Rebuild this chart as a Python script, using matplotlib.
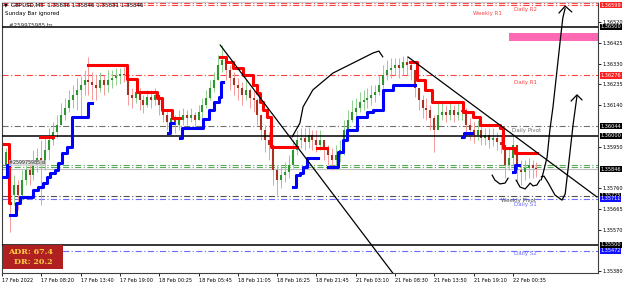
import numpy as np
import matplotlib
matplotlib.use('Agg')
import matplotlib.pyplot as plt
from matplotlib.patches import Rectangle
from matplotlib.transforms import blended_transform_factory

# GBPUSD M5, prices in points (1e-5), one candle per ~30 min of chart
first_open = 135866
close_pts = [135925, 135728, 135774, 135728, 135797, 135843, 135820, 135866, 135898, 135866,
             135935, 135980, 136017, 136049, 136095, 136127, 136164, 136187, 136210, 136232,
             136255, 136246, 136232, 136219, 136255, 136232, 136255, 136265, 136274, 136283,
             136278, 136187, 136173, 136200, 136164, 136141, 136177, 136164, 136187, 136141,
             136095, 136063, 136081, 136049, 136072, 136095, 136081, 136095, 136072, 136109,
             136141, 136173, 136219, 136255, 136324, 136347, 136301, 136265, 136232, 136219,
             136187, 136210, 136173, 136164, 136095, 136026, 135980, 135957, 135843, 135797,
             135820, 135834, 135866, 135935, 135980, 135990, 135971, 136003, 135980, 135957,
             135980, 135935, 135912, 135889, 135912, 135935, 136026, 136072, 136109, 136127,
             136155, 136164, 136173, 136187, 136200, 136232, 136278, 136301, 136310, 136324,
             136310, 136338, 136324, 136301, 136219, 136164, 136127, 136118, 136081, 136026,
             136095, 136109, 136095, 136118, 136095, 136109, 136118, 136049, 136026, 136003,
             136026, 135990, 136003, 135980, 135990, 135971, 135957, 135866, 135898, 135957,
             135843, 135834, 135852, 135866, 135852, 135846]
high_pts = [135944, 135935, 135820, 135797, 135843, 135889, 135889, 135935, 135944, 135980,
            135990, 136035, 136063, 136095, 136150, 136173, 136210, 136232, 136265, 136274,
            136301, 136361, 136292, 136278, 136292, 136278, 136301, 136301, 136310, 136310,
            136315, 136292, 136219, 136232, 136219, 136187, 136210, 136210, 136219, 136187,
            136164, 136118, 136118, 136095, 136118, 136127, 136118, 136127, 136109, 136141,
            136173, 136210, 136255, 136292, 136370, 136416, 136370, 136324, 136292, 136265,
            136246, 136255, 136219, 136210, 136173, 136095, 136049, 136017, 135957, 135866,
            135866, 135880, 135912, 135980, 136026, 136035, 136035, 136040, 136026, 136026,
            136026, 135980, 135957, 135944, 135957, 135980, 136072, 136118, 136164, 136173,
            136200, 136210, 136219, 136232, 136232, 136278, 136324, 136347, 136356, 136356,
            136356, 136365, 136365, 136347, 136301, 136219, 136187, 136173, 136141, 136095,
            136150, 136150, 136141, 136150, 136141, 136150, 136150, 136127, 136081, 136063,
            136072, 136049, 136035, 136035, 136035, 136017, 136003, 135957, 135944, 136003,
            135957, 135889, 135889, 135898, 135889, 135880]
low_pts = [135852, 135559, 135683, 135660, 135705, 135774, 135774, 135797, 135834, 135683,
           135843, 135889, 135957, 135990, 136049, 136072, 136109, 136127, 136118, 136081,
           136187, 136187, 136164, 136164, 136200, 136187, 136200, 136219, 136232, 136237,
           136246, 136141, 136127, 136150, 136118, 136104, 136132, 136127, 136141, 136095,
           136063, 136026, 136035, 136012, 136026, 136049, 136049, 136063, 136035, 136072,
           136081, 136127, 136164, 136200, 136255, 136292, 136255, 136210, 136187, 136164,
           136141, 136164, 136127, 136109, 136049, 135980, 135925, 135889, 135774, 135728,
           135760, 135788, 135806, 135852, 135912, 135944, 135935, 135944, 135935, 135925,
           135935, 135889, 135866, 135843, 135852, 135880, 135912, 136026, 136063, 136081,
           136109, 136118, 136127, 136141, 136155, 136187, 136219, 136255, 136265, 136278,
           136265, 136278, 136278, 136255, 136177, 136118, 136081, 136072, 136026, 135925,
           136049, 136072, 136063, 136072, 136063, 136072, 136072, 136003, 135980, 135967,
           135980, 135957, 135957, 135944, 135953, 135935, 135921, 135806, 135843, 135866,
           135788, 135774, 135797, 135806, 135806, 135811]

# resistance / support step lines (bar position, level), nan = gap
res_x = [0.5, 1.8, 2.0, np.nan, 9.7, 13.0, np.nan,
         21.9, 31.8, 34.4, 39.4, 40.7, 43.3, 45.3, np.nan,
         55.5, 57.0, 58.8, 61.3, 63.9, 64.9, 65.7, 66.4, 67.4, 68.5, 75.1, np.nan,
         80.2, 82.7, np.nan,
         103.8, 105.6, 107.6, 109.4, 117.3, 119.9, 121.6, 126.7, 127.5, 130.5, 136.1]
res_y = [135962, 135692, 135692, np.nan, 135994, 135994, np.nan,
         136324, 136260, 136200, 136173, 136118, 136081, 136081, np.nan,
         136361, 136338, 136310, 136278, 136232, 136196, 136155, 136118, 136086, 135948, 135948, np.nan,
         135944, 135944, np.nan,
         136338, 136255, 136210, 136155, 136109, 136086, 136049, 136035, 135944, 135921, 135921]
sup_x = [0.25, 1.3, 1.8, np.nan,
         2.0, 3.6, 4.6, 7.9, 9.2, 10.4, 11.5, 12.2, 13.5, 14.3, 15.3, 16.5, 17.8, 21.9, 22.9, np.nan,
         42.2, 42.8, 43.5, np.nan,
         45.3, 45.8, 51.2, 52.7, 53.9, 55.2, 55.7, 56.2, np.nan,
         74.0, 74.8, 75.8, 76.6, 77.6, 80.4, np.nan,
         83.0, 85.5, 86.8, 87.8, 90.3, 92.9, 94.4, 96.9, 99.5, 105.1, np.nan,
         117.0, 117.6, 119.6, np.nan,
         130.0, 130.5, 131.6]
sup_y = [135811, 135866, 135866, np.nan,
         135637, 135692, 135719, 135751, 135765, 135783, 135811, 135829, 135843, 135875, 135921, 135948,
         136086, 136150, 136150, np.nan,
         136012, 136058, 136058, np.nan,
         135990, 136035, 136077, 136118, 136155, 136177, 136246, 136246, np.nan,
         135765, 135820, 135829, 135857, 135898, 135898, np.nan,
         135857, 135925, 135980, 136026, 136086, 136109, 136118, 136210, 136232, 136232, np.nan,
         135994, 136012, 136012, np.nan,
         135834, 135866, 135866]

# pivot levels: name, price, colour, label x (bar), label y
levels = [
    ('Weekly R1', 1.36606, '#ff4040', 123.4, 1.36558),
    ('Daily R2', 1.36599, '#ff4040', 133.1, 1.36578),
    ('Daily R1', 1.36276, '#ff4040', 133.1, 1.36246),
    ('Daily Pivot', 1.36044, '#707070', 133.6, 1.36022),
    ('Weekly Pivot', 1.35725, '#505050', 131.3, 1.35705),
    ('Daily S1', 1.35711, '#6a6aff', 133.1, 1.35683),
    ('Daily S2', 1.35472, '#6a6aff', 133.1, 1.35462),
]
round_levels = [1.36500, 1.36000, 1.35500]
sl_levels = [1.35866, 1.35857]
bid = 1.35846

# hand drawn lines (bar position, points)
trend1_x, trend1_y = [55.5, 100.0], [136416, 135357]
trend2_x, trend2_y = [103.3, 151.4], [136361, 135719]
arc_x = [73.8, 75.8, 76.6, 79.1, 84.2, 89.3, 94.4, 95.9, 96.9]
arc_y = [135994, 136058, 136132, 136210, 136287, 136333, 136379, 136388, 136361]
up1_x = [137.2, 137.7, 138.7, 139.4, 140.2, 141.5, 142.2, 142.7, 143.3]
up1_y = [135797, 135829, 135902, 136026, 136132, 136347, 136462, 136540, 136585]
cap1_x, cap1_y = [141.7, 143.3, 145.0], [136562, 136594, 136567]
up2_x = [137.2, 137.9, 139.0, 140.7, 142.5, 143.3, 144.3, 145.3, 146.3]
up2_y = [135811, 135815, 135783, 135728, 135705, 135733, 135889, 136049, 136182]
cap2_x, cap2_y = [144.8, 146.3, 147.6], [136159, 136187, 136164]
sq1_x = [124.7, 125.4, 126.7, 128.0, 128.8]
sq1_y = [135820, 135797, 135779, 135783, 135806]
sq2_x = [130.8, 131.8, 133.1, 133.8, 134.4, 135.1, 136.1, 136.9]
sq2_y = [135797, 135765, 135756, 135770, 135783, 135770, 135774, 135797]

# axes
time_ticks = [0, 10, 20, 30, 40, 50, 60, 70, 80, 90, 100, 110, 120, 130]
time_labels = ['17 Feb 2022', '17 Feb 08:20', '17 Feb 13:40', '17 Feb 19:00', '18 Feb 00:25',
               '18 Feb 05:45', '18 Feb 11:05', '18 Feb 16:25', '18 Feb 21:45', '21 Feb 03:10',
               '21 Feb 08:30', '21 Feb 13:50', '21 Feb 19:10', '22 Feb 00:35']
price_ticks = [1.36520, 1.36425, 1.36330, 1.36235, 1.36140, 1.35950, 1.35760,
               1.35665, 1.35570, 1.35380]
price_tags = [(1.36599, '#ff2020'), (1.36500, 'black'), (1.36276, '#ff2020'),
              (1.36044, 'black'), (1.36000, 'black'), (1.35846, 'black'),
              (1.35725, 'black'), (1.35711, '#1010ff'), (1.35500, 'black'),
              (1.35472, '#1010ff')]
zone = (129.0, 1.36434, 1.36471)
adr_text = ['ADR: 67.4', 'DR: 20.2']

DASHDOT = (0, (5.5, 2.2, 1, 2.2))
FS = 4.0
AX_FS = 3.6


def pts(a):
    return np.array(a, dtype=float) / 1e5


def draw_candles(ax):
    c = pts(close_pts)
    h = pts(high_pts)
    l = pts(low_pts)
    o = np.concatenate(([first_open / 1e5], c[:-1]))
    x = np.arange(1, len(c) + 1)
    up = c >= o
    ax.vlines(x[up], l[up], h[up], color='#8fd08f', lw=0.7, zorder=3)
    ax.vlines(x[~up], l[~up], h[~up], color='#f49a9a', lw=0.7, zorder=3)
    ax.vlines(x[up], o[up], c[up], color='#2f962f', lw=1.5, zorder=3)
    ax.vlines(x[~up], o[~up], c[~up], color='#a8321f', lw=1.5, zorder=3)


def main():
    fig = plt.figure(figsize=(6.25, 2.89), dpi=100)
    fig.patch.set_facecolor('white')
    ax = fig.add_axes([2 / 625, 16 / 289, 596 / 625, 271 / 289])
    ax.set_xlim(0, 151.65)
    ax.set_ylim(1.353708, 1.366128)

    # levels
    for lab, p, col, lx, ly in levels:
        ax.axhline(p, color=col, lw=0.8, ls=DASHDOT, zorder=2)
        ax.text(lx, ly, lab, color=col, fontsize=FS, ha='center', va='center', zorder=6)
    for p in round_levels:
        ax.axhline(p, color='black', lw=1.1, zorder=4)
    for p in sl_levels:
        ax.axhline(p, color='#5aa85a', lw=0.8, ls=DASHDOT, zorder=2)
    ax.axhline(bid, color='#c0c0c0', lw=0.8, zorder=2)

    ax.add_patch(Rectangle((zone[0], zone[1]), 200, zone[2] - zone[1],
                           color='#ff69b4', lw=0, zorder=2))

    draw_candles(ax)
    ax.plot(res_x, pts(res_y), drawstyle='steps-post', color='#ff0000', lw=2.2, zorder=4)
    ax.plot(sup_x, pts(sup_y), drawstyle='steps-post', color='#0000ff', lw=2.2, zorder=4)

    # hand drawings
    for xs, ys in [(trend1_x, trend1_y), (trend2_x, trend2_y), (arc_x, arc_y),
                   (up1_x, up1_y), (cap1_x, cap1_y), (up2_x, up2_y), (cap2_x, cap2_y),
                   (sq1_x, sq1_y), (sq2_x, sq2_y)]:
        ax.plot(xs, pts(ys), color='black', lw=0.9, zorder=7, solid_capstyle='round')

    # ADR box
    ax.add_patch(Rectangle((0.002, 0.0148), 0.1, 0.0885, transform=ax.transAxes,
                           color='#b02020', lw=0, zorder=8))
    ax.text(0.048, 0.0775, adr_text[0], transform=ax.transAxes, color='#ffd040',
            fontsize=5.8, fontweight='bold', family='DejaVu Serif', ha='center', va='center', zorder=9)
    ax.text(0.052, 0.040, adr_text[1], transform=ax.transAxes, color='#ffd040',
            fontsize=5.8, fontweight='bold', family='DejaVu Serif', ha='center', va='center', zorder=9)

    # header texts
    fig.text(4 / 625, 1 - 5 / 289, '\u25bc', fontsize=3.5, va='center', color='black')
    fig.text(11 / 625, 1 - 5 / 289, 'GBPUSD,M5  1.35836 1.35846 1.35831 1.35846',
             fontsize=FS, va='center', color='black')
    fig.text(5 / 625, 1 - 14 / 289, 'Sunday Bar ignored', fontsize=FS, va='center')
    fig.text(9 / 625, 1 - 25 / 289, '#259975985 tp', fontsize=FS, va='center', color='#303030')
    fig.text(9 / 625, 1 - 163 / 289, '#259975985 sl', fontsize=3.4, va='center', color='#303030',
             bbox=dict(boxstyle='square,pad=0.1', fc='#d8d8d8', ec='none', alpha=0.8), zorder=8)

    # axes styling
    for s in ax.spines.values():
        s.set_color('#404040')
        s.set_linewidth(0.8)
    ax.spines['top'].set_color('#c8c8c8')
    ax.yaxis.tick_right()
    ax.set_yticks(price_ticks)
    ax.set_yticklabels(['%.5f' % p for p in price_ticks])
    ax.tick_params(axis='y', labelsize=AX_FS, pad=1.0, length=2, width=0.6)
    ax.set_xticks(time_ticks)
    ax.set_xticklabels(time_labels, ha='left')
    ax.tick_params(axis='x', labelsize=AX_FS, pad=1.5, length=2, width=0.6)

    tr = blended_transform_factory(ax.transAxes, ax.transData)
    for p, col in price_tags:
        ax.text(1.004, p, '%.5f' % p, transform=tr, fontsize=AX_FS, color='white',
                va='center', ha='left', clip_on=False, zorder=10,
                bbox=dict(boxstyle='square,pad=0.12', fc=col, ec='none'))

    fig.savefig('out.png', dpi=100, facecolor='white')


if __name__ == '__main__':
    main()
